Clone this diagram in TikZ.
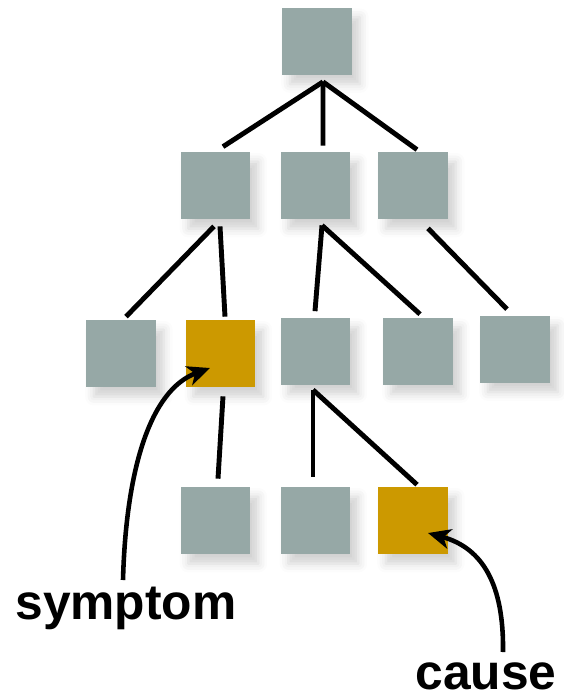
\documentclass[tikz,border=0pt]{standalone}
\usepackage{fontspec}
\setmainfont{Liberation Sans}
\usepackage{tikz}
\usetikzlibrary{arrows.meta}
\usetikzlibrary{calc}
\usetikzlibrary{shadows.blur}

\definecolor{boxgray}{RGB}{150,168,166}
\definecolor{boxgold}{RGB}{204,153,0}

\begin{document}
\begin{tikzpicture}[x=0.02cm,y=-0.02cm,
  box/.style={fill=boxgray,minimum width=1.4cm,minimum height=1.34cm,inner sep=0,
    blur shadow={shadow xshift=4.5pt,shadow yshift=-5.5pt,shadow opacity=18,shadow blur radius=5pt}},
  hot/.style={box,fill=boxgold},
  link/.style={line width=2.8pt},
  pointer/.style={line width=2.6pt,-{Stealth[length=4.5mm,width=4mm,inset=1.3mm]}},
  word/.style={font=\bfseries\fontsize{28.3}{30}\selectfont,inner sep=0,anchor=base}]

\useasboundingbox (0,0) rectangle (564,698);

%the tree, top to bottom
\node[box] (r) at (317,41) {};

\node[box] (a1) at (215.5,185.5) {};
\node[box] (a2) at (315.5,185.5) {};
\node[box] (a3) at (413,185.5) {};

\node[box] (b1) at (121,353.5) {};
\node[hot] (b2) at (220.5,353.5) {};
\node[box] (b3) at (315.5,351) {};
\node[box] (b4) at (418,351) {};
\node[box] (b5) at (515,349) {};

\node[box] (c1) at (215.5,520.5) {};
\node[box] (c2) at (315.5,520.5) {};
\node[hot] (c3) at (413,520.5) {};

%branches
\coordinate (rfork) at ($(r.south)+(6,7)$);
\draw[link] (rfork) -- ($(a1.north)+(7.5,-5)$);
\draw[link] (rfork) -- ($(a2.north)+(7.5,-6)$);
\draw[link] (rfork) -- ($(a3.north)+(4,-2)$);

\draw[link] ($(a1.south)+(-1.5,7)$) -- ($(b1.north)+(5,-3)$);
\draw[link] ($(a1.south)+(4.5,7)$) -- ($(b2.north)+(4.5,-3)$);
\coordinate (afork) at ($(a2.south)+(6.5,6)$);
\draw[link] (afork) -- ($(b3.north)+(-0.5,-6)$);
\draw[link] (afork) -- ($(b4.north)+(2,-3)$);
\draw[link] ($(a3.south)+(15,9)$) -- ($(b5.north)+(-8,-6)$);

\draw[link] ($(b2.south)+(2.5,9)$) -- ($(c1.north)+(2.5,-8)$);
\coordinate (bfork) at ($(b3.south)+(-2.5,5)$);
\draw[link] (bfork) -- ($(c2.north)+(-2.5,-10)$);
\draw[link] (bfork) -- ($(c3.north)+(4,-2)$);

%labels and pointers
\node[word] (symptom) at (126,619) {symptom};
\node[word] (cause) at (486,689) {cause};

\draw[pointer] ($(symptom.base)+(-3,-39)$) .. controls +(3,-110) and +(-60,22) .. ($(b2.center)+(-10.5,14.5)$);
\draw[pointer] ($(cause.base)+(17,-37)$) .. controls +(1,-67) and +(55,15) .. ($(c3.center)+(15,12.5)$);

\end{tikzpicture}
\end{document}
